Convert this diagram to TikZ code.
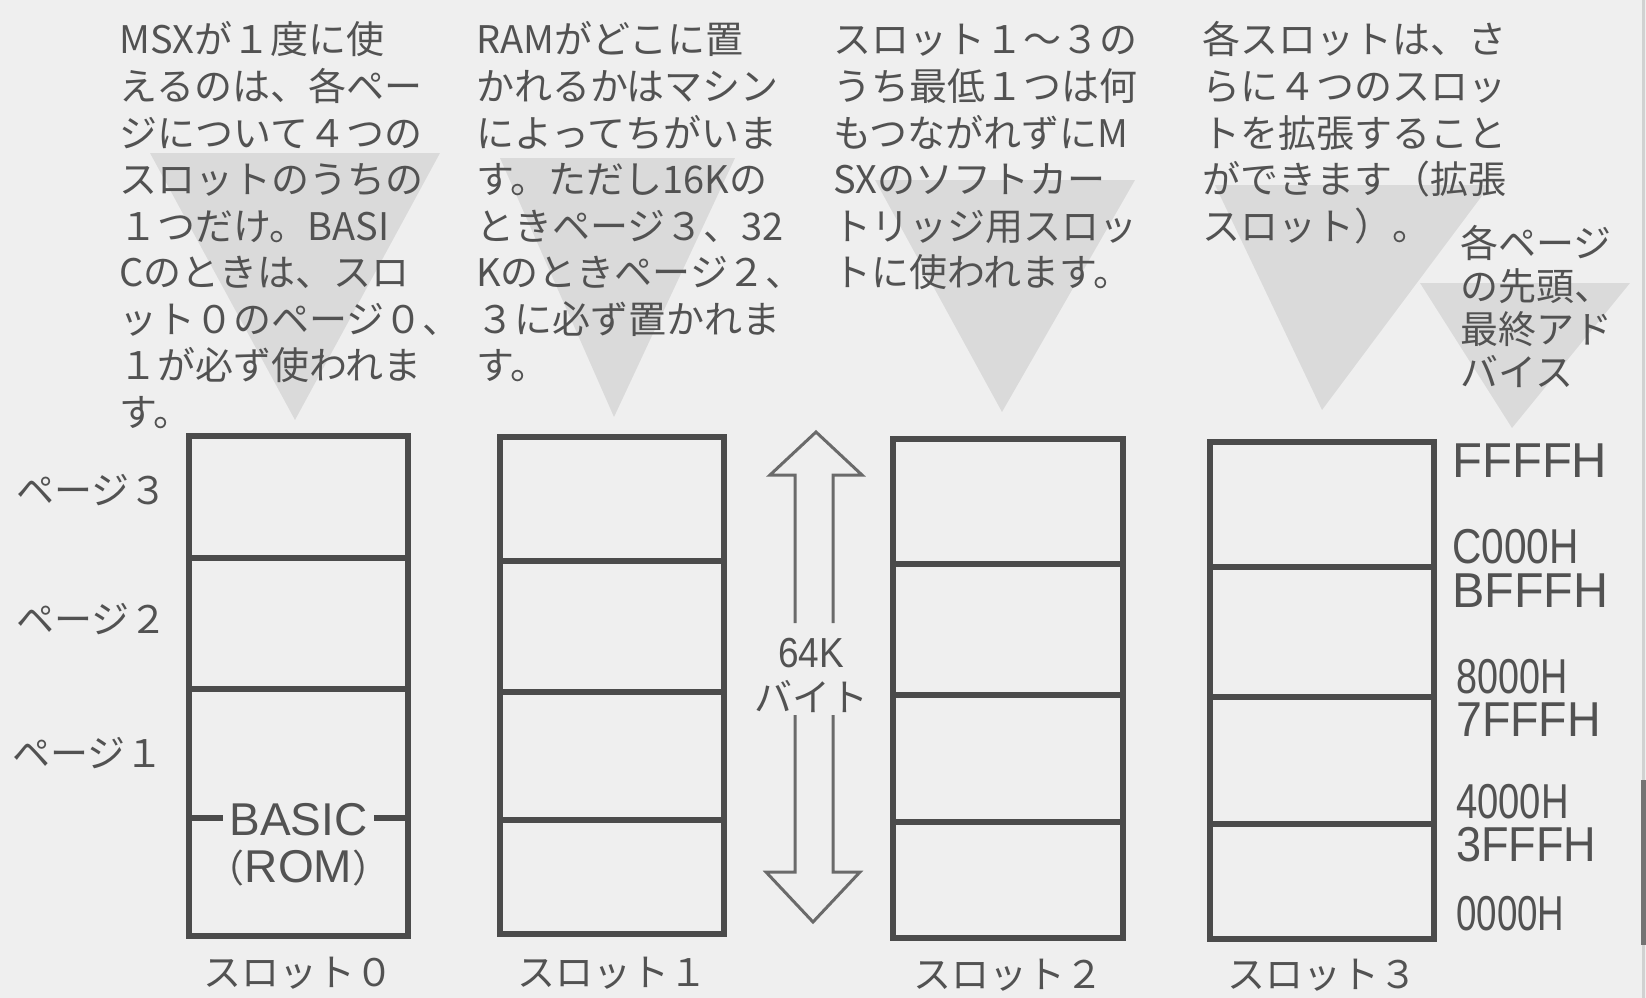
\documentclass[tikz,border=0pt]{standalone}
\usepackage{fontspec}
\usepackage{graphicx}
\setmainfont{Noto Sans CJK JP}
\newfontfamily\lat{Liberation Sans}
\definecolor{bg}{HTML}{EFEFEF}
\definecolor{tc}{HTML}{525252}
\definecolor{bc}{HTML}{4B4B4B}
\definecolor{ac}{HTML}{6A6A6A}
\tikzset{
  jtxt/.style={anchor=base west, inner sep=0pt, text=tc, font=\fontsize{38pt}{46pt}\selectfont},
  ctxt/.style={anchor=base, inner sep=0pt, text=tc, font=\fontsize{38pt}{46pt}\selectfont},
  addr/.style={anchor=base west, inner sep=0pt, text height=35pt, text depth=0pt, text=tc, font=\lat\fontsize{49pt}{56pt}\selectfont},
  slotbox/.style={draw=bc, line width=6pt, inner sep=0pt, outer sep=0pt},
  divider/.style={draw=bc, line width=6pt},
  tri/.style={fill=black, fill opacity=0.085},
  arrowline/.style={draw=ac, line width=3pt, line join=miter},
}
\newcommand\slotcol[8]{%
  \node[slotbox, minimum width=#3pt, minimum height={(#5-#4)*1pt}] (#1) at (#2,{(#4+#5)/2}) {};
  \foreach \d [count=\k] in {#6,#7,#8} {
    \coordinate (#1y\k) at (0,\d);
    \draw[divider] (#1.west |- #1y\k) -- (#1.east |- #1y\k);
  }
}
\begin{document}
\begin{tikzpicture}[x=1pt,y=-1pt]
\fill[bg] (0,0) rectangle (1646,998);
\useasboundingbox (0,0) rectangle (1646,998);

% grey guide triangles
\fill[tri] (150,153) -- (440,153) -- (295,420) -- cycle;
\fill[tri] (500,158) -- (735,158) -- (614,417) -- cycle;
\fill[tri] (875,180) -- (1135,180) -- (1002,412) -- cycle;
\fill[tri] (1215,185) -- (1490,185) -- (1322,410) -- cycle;
\fill[tri] (1420,283) -- (1630,283) -- (1512,428) -- cycle;

% right page edge
\draw[line width=3pt, draw=black!18] (1643,0) -- (1643,998);
\draw[line width=5pt, draw=black!55] (1643,780) -- (1643,945);

% explanatory columns
\foreach \t [count=\i] in {MSXが１度に使,えるのは、各ペー,ジについて４つの,スロットのうちの,１つだけ。BASI,Cのときは、スロ,ット０のページ０、,１が必ず使われま,す。}
  \node[jtxt] (ca\i) at (119,{54+(\i-1)*46.5}) {\t};
\foreach \t [count=\i] in {RAMがどこに置,かれるかはマシン,によってちがいま,す。ただし16Kの,ときページ３、32,Kのときページ２、,３に必ず置かれま,す。}
  \node[jtxt] (cb\i) at (476,{54+(\i-1)*46.5}) {\t};
\foreach \t [count=\i] in {スロット１～３の,うち最低１つは何,もつながれずにM,SXのソフトカー,トリッジ用スロッ,トに使われます。}
  \node[jtxt] (cc\i) at (833,{54+(\i-1)*46.5}) {\t};
\foreach \t [count=\i] in {各スロットは、さ,らに４つのスロッ,トを拡張すること,ができます（拡張,スロット）。}
  \node[jtxt] (cd\i) at (1202,{54+(\i-1)*46.5}) {\t};
\foreach \t [count=\i] in {各ページ,の先頭、,最終アド,バイス}
  \node[jtxt] (ce\i) at (1460,{257+(\i-1)*43.3}) {\t};

% slots
\slotcol{s0}{298.5}{219}{436}{936}{558}{689}{818}
\slotcol{s1}{612}{224}{437}{934}{561}{692}{820}
\slotcol{s2}{1008}{230}{439}{938}{564}{695}{822}
\slotcol{s3}{1322}{224}{442}{939}{567}{697}{824}

% BASIC (ROM)
\node[fill=bg, inner xsep=6pt, inner ysep=3pt, anchor=base, text=tc, font=\lat\fontsize{46pt}{50pt}\selectfont] (basic) at (298.5,835) {BASIC};
\node[anchor=base, inner sep=0pt, text=tc, font=\fontsize{38pt}{46pt}\selectfont] (rom) at (298.5,882) {（{\lat\fontsize{46pt}{50pt}\selectfont ROM}）};

% slot labels
\node[ctxt] (l0) at (s0.center |- 0,986) {スロット０};
\node[ctxt] (l1) at (s1.center |- 0,986) {スロット１};
\node[ctxt] (l2) at (s2.center |- 0,988) {スロット２};
\node[ctxt] (l3) at (s3.center |- 0,988) {スロット３};

% page labels
\node[jtxt] (p3) at (16,504) {ページ３};
\node[jtxt] (p2) at (16,633) {ページ２};
\node[jtxt] (p1) at (12,767) {ページ１};

% address labels
\node[addr] (aF) at (1452,477) {\scalebox{1.0}[1]{FFFFH}};
\node[addr] (aC) at (1452,563) {\scalebox{0.83}[1]{C000H}};
\node[addr] (aB) at (1452,607) {\scalebox{0.99}[1]{BFFFH}};
\node[addr] (a8) at (1456,693) {\scalebox{0.77}[1]{8000H}};
\node[addr] (a7) at (1456,736) {\scalebox{0.95}[1]{7FFFH}};
\node[addr] (a4) at (1456,818) {\scalebox{0.78}[1]{4000H}};
\node[addr] (a3) at (1456,861) {\scalebox{0.92}[1]{3FFFH}};
\node[addr] (a0) at (1456,930) {\scalebox{0.75}[1]{0000H}};

% 64K double arrow
\draw[arrowline] (795,623) -- (795,475) -- (770,475) -- (816,432) -- (862,475) -- (833,475) -- (833,623);
\draw[arrowline] (795,715) -- (795,872) -- (766,872) -- (813,922) -- (860,872) -- (833,872) -- (833,715);
\node[anchor=base, inner sep=0pt, text=tc, font=\lat\fontsize{42pt}{48pt}\selectfont] (k64) at (811,667) {\scalebox{0.88}[1]{64K}};
\node[ctxt] (byte) at (811,711) {バイト};
\end{tikzpicture}
\end{document}
